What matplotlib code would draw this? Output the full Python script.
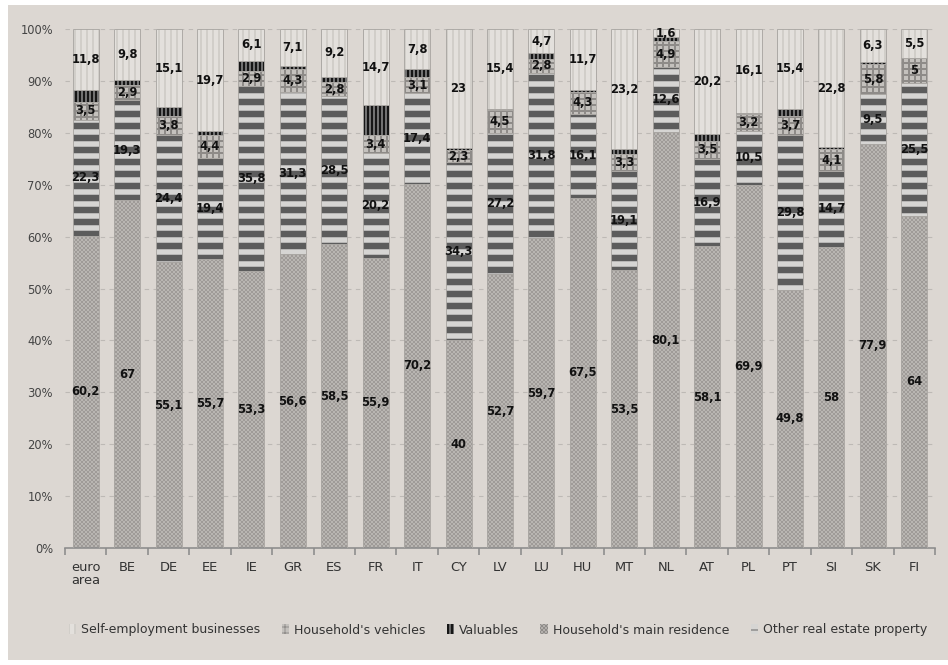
import numpy as np
import matplotlib.pyplot as plt
from matplotlib.patches import Rectangle, Patch

plt.rcParams["font.family"] = ["Liberation Sans Narrow", "DejaVu Sans"]

# ---- data (% of real assets) ----
countries = ["euro\narea", "BE", "DE", "EE", "IE", "GR", "ES", "FR", "IT", "CY", "LV",
             "LU", "HU", "MT", "NL", "AT", "PL", "PT", "SI", "SK", "FI"]
main_residence = [60.2, 67, 55.1, 55.7, 53.3, 56.6, 58.5, 55.9, 70.2, 40, 52.7,
                  59.7, 67.5, 53.5, 80.1, 58.1, 69.9, 49.8, 58, 77.9, 64]
other_real_estate = [22.3, 19.3, 24.4, 19.4, 35.8, 31.3, 28.5, 20.2, 17.4, 34.3, 27.2,
                     31.8, 16.1, 19.1, 12.6, 16.9, 10.5, 29.8, 14.7, 9.5, 25.5]
vehicles = [3.5, 2.9, 3.8, 4.4, 2.9, 4.3, 2.8, 3.4, 3.1, 2.3, 4.5,
            2.8, 4.3, 3.3, 4.9, 3.5, 3.2, 3.7, 4.1, 5.8, 5]
valuables = [2.2, 1.0, 1.6, 0.8, 1.9, 0.7, 1.0, 5.8, 1.5, 0.4, 0.2,
             1.0, 0.4, 0.9, 0.8, 1.3, 0.3, 1.3, 0.4, 0.5, 0.0]
self_employment = [11.8, 9.8, 15.1, 19.7, 6.1, 7.1, 9.2, 14.7, 7.8, 23, 15.4,
                   4.7, 11.7, 23.2, 1.6, 20.2, 16.1, 15.4, 22.8, 6.3, 5.5]

BG = "#dcd7d2"
OUTLINE = "#aaa7a3"
W, H, DPI = 948, 665, 72   # hatch cell = DPI pixels, so 72 keeps stripes ~12 px apart

# name, values, face, hatch, hatch colour, hatch width, labelled
layers = [
    ("Household's main residence", main_residence, "#bdb9b5", "xxxxxx", "#8f8c89", 0.5, True),
    ("Other real estate property", other_real_estate, "#d6d5d3", "-", "#5c5c5c", 6.5, True),
    ("Household's vehicles", vehicles, "#c4c1bd", "++", "#8e8b88", 2.0, True),
    ("Valuables", valuables, "#161616", "|||", "#cfcfcf", 1.0, False),
    ("Self-employment businesses", self_employment, "#e3e0dc", "||", "#bdb9b4", 0.9, True),
]

fig = plt.figure(figsize=(W / DPI, H / DPI), dpi=DPI, facecolor="white")
fig.patches.append(Rectangle((8 / W, 5 / H), 940 / W, 655 / H,
                             transform=fig.transFigure, facecolor=BG,
                             edgecolor="none", zorder=-10))

ax = fig.add_axes([65 / W, 1 - 548 / H, 870 / W, 519 / H])
ax.set_facecolor("none")

x = np.arange(len(countries))
width = 0.63
bottom = np.zeros(len(countries))

for name, vals, face, hatch, hcol, hlw, labelled in layers:
    vals = np.array(vals, dtype=float)
    plt.rcParams["hatch.linewidth"] = hlw
    bars = ax.bar(x, vals, width, bottom=bottom, color=face, hatch=hatch,
                  edgecolor=hcol, linewidth=0, zorder=2)
    for b in bars:
        if hasattr(b, "set_hatch_linewidth"):
            b.set_hatch_linewidth(hlw)
    ax.bar(x, vals, width, bottom=bottom, fill=False, edgecolor=OUTLINE,
           linewidth=0.9, zorder=3)
    if labelled:
        for xi, b0, v in zip(x, bottom, vals):
            txt = ("%g" % v).replace(".", ",")
            ax.text(xi, b0 + v / 2, txt, ha="center", va="center",
                    fontsize=11.5, fontweight="bold", color="#111111", zorder=5)
    bottom += vals

ax.set_xlim(-0.5, len(countries) - 0.5)
ax.set_ylim(0, 100)
ax.set_yticks(range(0, 101, 10))
ax.set_yticklabels([f"{v}%" for v in range(0, 101, 10)])
ax.yaxis.grid(True, linestyle=(0, (4, 4)), color="#bdb9b5", linewidth=1.1, zorder=1)
ax.set_axisbelow(True)

ax.set_xticks(x)
ax.set_xticklabels(countries, fontsize=13, color="#333333", linespacing=0.95)
ax.tick_params(axis="x", length=0, pad=13)
ax.set_xticks(np.arange(-0.5, len(countries)), minor=True)
ax.tick_params(axis="x", which="minor", length=7, color="#8c8c8c", width=1.6)
ax.tick_params(axis="y", length=0, pad=12, labelsize=11.5, labelcolor="#444444")

for s in ["top", "right", "left"]:
    ax.spines[s].set_visible(False)
ax.spines["bottom"].set_color("#8c8c8c")
ax.spines["bottom"].set_linewidth(1.6)

# legend: self-employment, vehicles, valuables, main residence, other real estate
order = [4, 2, 3, 0, 1]
handles = []
for i in order:
    name, _, face, hatch, hcol, hlw, _ = layers[i]
    p = Patch(facecolor=face, hatch=hatch, edgecolor=hcol, linewidth=0, label=name)
    if hasattr(p, "set_hatch_linewidth"):
        p.set_hatch_linewidth(min(hlw, 1.5))
    handles.append(p)
leg = fig.legend(handles=handles, loc="center", ncol=5,
                 bbox_to_anchor=(498 / W, 1 - 630 / H), frameon=False,
                 fontsize=12.5, handlelength=0.6, handleheight=0.8,
                 handletextpad=0.4, columnspacing=1.7)
for t in leg.get_texts():
    t.set_color("#333333")

fig.savefig("out.png", dpi=DPI, facecolor=fig.get_facecolor())
